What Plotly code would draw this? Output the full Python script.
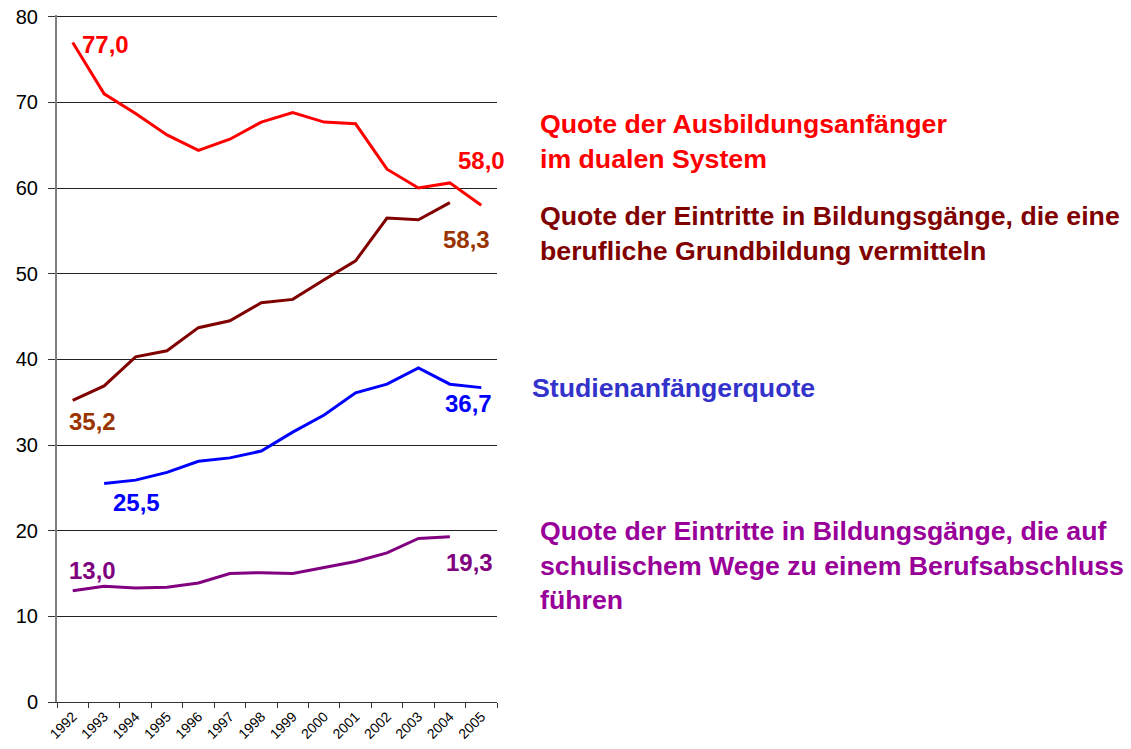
import plotly.graph_objects as go

years = [str(y) for y in range(1992, 2006)]
duales_system = [77.0, 71.0, 68.7, 66.2, 64.4, 65.7, 67.7, 68.8, 67.7, 67.5, 62.2, 60.0, 60.6, 58.0]
grundbildung = [35.2, 36.9, 40.3, 41.0, 43.7, 44.5, 46.6, 47.0, 49.3, 51.5, 56.5, 56.3, 58.3, None]
studienanfaenger = [None, 25.5, 25.9, 26.8, 28.1, 28.5, 29.3, 31.5, 33.5, 36.1, 37.1, 39.0, 37.1, 36.7]
schulisch = [13.0, 13.5, 13.3, 13.4, 13.9, 15.0, 15.1, 15.0, 15.7, 16.4, 17.4, 19.1, 19.3, None]

y_ticks = [0, 10, 20, 30, 40, 50, 60, 70, 80]

FONT = "Arial, Liberation Sans, sans-serif"

series = [
    (duales_system, "#FF0000"),
    (grundbildung, "#800000"),
    (studienanfaenger, "#0000FF"),
    (schulisch, "#800080"),
]

fig = go.Figure()
for vals, col in series:
    fig.add_trace(go.Scatter(x=years, y=vals, mode="lines",
                             line=dict(color=col, width=3),
                             connectgaps=False, hoverinfo="skip"))

# data labels: (series, index, text, color, xshift, yshift)
labels = [
    (duales_system, 0, "77,0", "#FF0000", 33, -2),
    (duales_system, 13, "58,0", "#FF0000", 0, 45),
    (grundbildung, 12, "58,3", "#993300", 17, -37),
    (grundbildung, 0, "35,2", "#993300", 20, -21),
    (studienanfaenger, 1, "25,5", "#0000FF", 32, -19),
    (studienanfaenger, 13, "36,7", "#0000FF", -13, -16),
    (schulisch, 0, "13,0", "#800080", 20, 20),
    (schulisch, 12, "19,3", "#800080", 20, -26),
]
for vals, i, txt, col, xs, ys in labels:
    # category axis: position by category index
    fig.add_annotation(x=i, y=vals[i], text=txt, showarrow=False,
                       xshift=xs, yshift=ys, xanchor="center", yanchor="middle",
                       font=dict(family=FONT, size=24, color=col, weight="bold"))

# side texts (paper coords relative to plot area spanning px 57..497, 15..702)
def px_x(px):
    return (px - 57) / 440.0

def px_y(py):
    return (702 - py) / 687.0

side = [
    ("Quote der Ausbildungsanfänger<br>im dualen System", "#FF0000", 538, 141),
    ("Quote der Eintritte in Bildungsgänge, die eine<br>berufliche Grundbildung vermitteln", "#800000", 538, 234),
    ("Studienanfängerquote", "#3333CC", 530, 388),
    ("Quote der Eintritte in Bildungsgänge, die auf<br>schulischem Wege zu einem Berufsabschluss<br>führen", "#990099", 538, 565),
]
for txt, col, x, y in side:
    fig.add_annotation(xref="paper", yref="paper", x=px_x(x), y=px_y(y), text=txt,
                       showarrow=False, xanchor="left", yanchor="middle", align="left",
                       font=dict(family=FONT, size=26.7, color=col, weight="bold"))

fig.update_layout(
    width=1131, height=749,
    margin=dict(l=57, r=634, t=15, b=47),
    paper_bgcolor="white", plot_bgcolor="white",
    showlegend=False,
    font=dict(family=FONT, color="black"),
)
fig.update_xaxes(
    type="category", categoryorder="array", categoryarray=years,
    tickson="boundaries", ticks="outside", ticklen=5, tickcolor="#333333",
    tickangle=-45, tickfont=dict(size=14, family=FONT, color="black"),
    showline=True, linecolor="#333333", linewidth=1, automargin=False,
    showgrid=False, zeroline=False, range=[-0.5, 13.5],
)
fig.update_yaxes(
    range=[0, 80.2], tickvals=y_ticks, ticks="outside", ticklen=7, tickcolor="#333333",
    tickfont=dict(size=20, family=FONT, color="black"), ticklabelstandoff=6,
    ticklabeloverflow="allow",
    showline=True, linecolor="#808080", linewidth=2, automargin=False,
    showgrid=True, gridcolor="#222222", gridwidth=1, zeroline=False,
)

fig.write_html(
    "out.html",
    config={"displayModeBar": False},
    post_script="document.body.style.margin='0';document.body.style.overflow='hidden';",
)
